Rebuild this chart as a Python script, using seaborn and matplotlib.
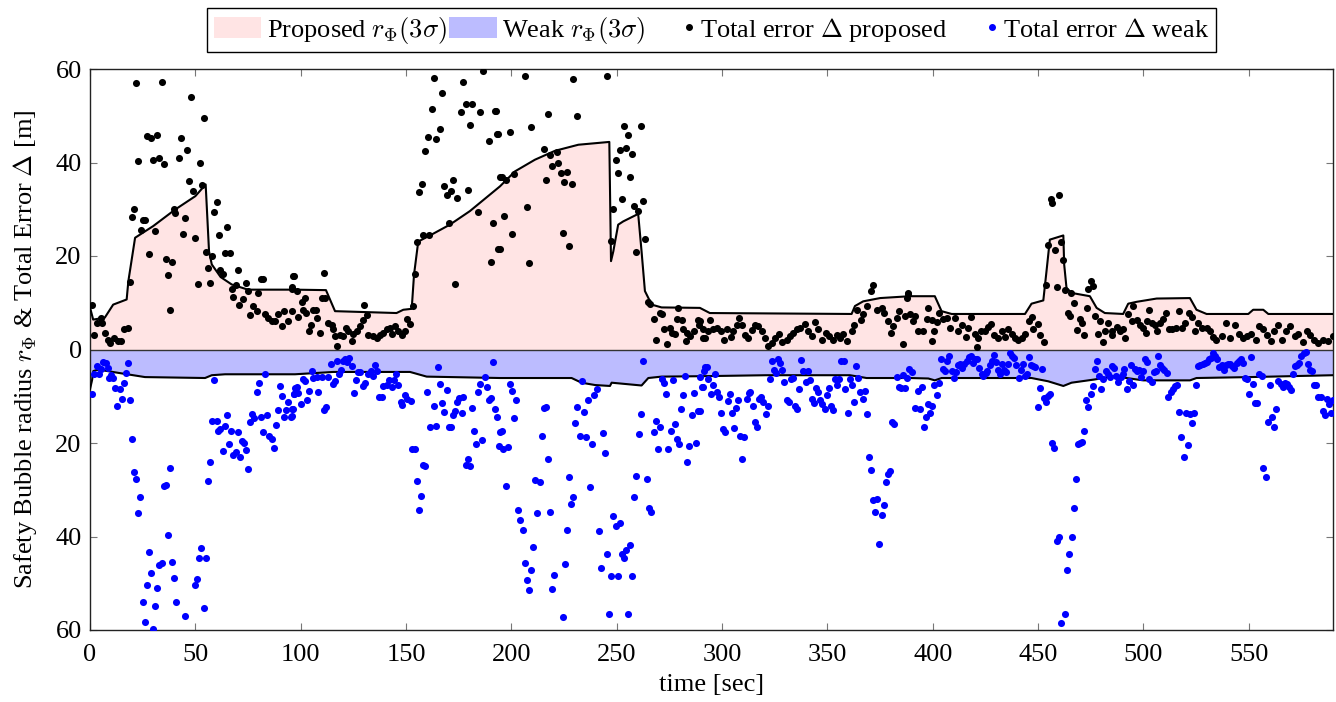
import numpy as np
import pandas as pd
import matplotlib
matplotlib.use("Agg")
import matplotlib.pyplot as plt
import seaborn as sns
from matplotlib.patches import Patch
from matplotlib.lines import Line2D
from matplotlib.legend_handler import HandlerBase

# ---------------- data ----------------
# Proposed safety bubble radius r_Phi(3 sigma)  (time [s], radius [m])
prop_r_t = [0, 1.5, 7, 11, 17.4, 18.2, 21.4, 30, 40.3, 50, 54.9, 56.5, 57.8, 62, 67.3, 75, 97.3,
            112, 116.3, 145.5, 148.7, 152.7, 153.8, 155.8, 161.4, 170.8, 180.3, 194.6, 201.7,
            211.2, 220.7, 231.8, 246.5, 247.3, 248.4, 250.7, 253.1, 260.2, 261.8, 263.4, 266.6,
            271.3, 289.5, 294.2, 361.5, 363.1, 367, 375, 389.2, 401, 404.2, 409, 443.8, 446.9,
            452.5, 454, 455.6, 462, 462.4, 463.5, 465.9, 474.6, 477.8, 481.7, 490.4, 492.8,
            496.8, 506.3, 522.1, 525.2, 530, 549.8, 552.1, 556.9, 559.3, 590]
prop_r = [9, 6.4, 6.8, 9.6, 10.7, 14.6, 23.9, 26.4, 29.9, 32.8, 35.3, 21, 18.2, 15.5, 13.9, 12.8,
          12.8, 12.7, 8.2, 7.8, 8.5, 8.7, 16, 23.1, 24.4, 26.7, 29.6, 34.9, 38.1, 40.6, 42.5,
          43.8, 44.4, 18.9, 21, 26.7, 27.4, 29, 21, 12.5, 9.6, 9.0, 8.9, 7.8, 7.6, 9.3, 10.3, 11,
          11.4, 11.4, 8.2, 7.6, 7.6, 9.8, 10.5, 16.7, 23.5, 24.4, 18.2, 13.2, 12.1, 11.4, 8.9,
          7.8, 7.6, 9.8, 10.2, 10.9, 11.0, 8.5, 7.6, 7.6, 8.5, 8.5, 7.6, 7.6]

# Weak safety bubble radius r_Phi(3 sigma) (drawn mirrored below zero)
weak_r_t = [0, 1.0, 1.6, 4, 13.5, 26.1, 54.6, 57.8, 64.1, 97.3, 115.5, 151.9, 159.8, 194.6,
            228.6, 233.3, 239.7, 246.8, 247.6, 261.8, 265, 271.3, 291.9, 321.1, 360.7, 368.6,
            389.2, 397.9, 401, 404.2, 446.9, 454.8, 462, 465.9, 477, 486.5, 492, 499.9, 522.1,
            525.2, 550.6, 590]
weak_r = [8.5, 6.5, 4.6, 4.3, 5.0, 5.9, 6.1, 5.5, 5.3, 5.3, 4.8, 4.8, 5.8, 6.1, 6.1, 7.1, 7.6,
          7.8, 7.1, 7.7, 6.1, 5.8, 5.7, 5.5, 5.5, 6.1, 6.1, 6.2, 6.6, 6.1, 6.1, 6.8, 7.8, 7.1,
          6.4, 5.7, 6.1, 6.6, 6.6, 6.1, 5.9, 5.5]

# Total error Delta, proposed  ([time, error])
prop_err_a = np.array([
    [21.8, 57.0], [34.0, 57.3], [47.9, 54.0], [54.0, 49.5], [26.9, 45.7], [29.0, 45.2], [32.0, 45.9],
    [43.0, 45.2], [46.0, 42.7], [23.0, 40.4], [30.1, 40.5], [32.9, 41.0], [35.1, 39.7], [42.1, 40.9],
    [52.1, 39.8], [47.2, 36.1], [53.0, 35.1], [48.9, 34.0], [21.0, 30.1], [20.0, 28.3], [25.3, 27.6],
    [26.1, 27.6], [24.2, 25.6], [30.9, 25.4], [39.9, 30.1], [40.5, 29.2], [44.9, 28.1], [44.0, 24.7],
    [50.0, 23.9], [60.1, 31.5], [59.0, 29.5], [65.0, 26.3], [61.1, 24.4], [28.0, 20.4], [36.1, 19.4],
    [38.9, 18.7], [36.9, 15.9], [54.9, 20.8], [58.1, 19.9], [63.9, 20.6], [66.3, 20.6], [55.9, 17.5],
    [61.9, 17.1], [63.0, 16.2], [70.1, 17.0], [51.1, 14.1], [57.0, 14.2], [38.0, 8.5], [18.8, 14.5],
    [67.3, 13.0], [69.2, 13.7], [68.0, 11.3], [73.9, 14.2], [75.2, 12.6], [79.9, 12.1], [81.3, 15.1],
    [82.1, 15.1], [70.7, 9.6], [72.8, 10.9], [76.0, 7.3], [77.2, 9.3], [79.3, 8.2], [82.9, 7.6],
    [84.3, 6.8], [86.2, 6.1], [89.1, 7.5], [91.3, 5.0], [92.3, 8.2], [94.1, 6.2], [96.5, 15.7],
    [96.0, 13.0], [0.8, 9.5], [3.2, 5.7], [2.1, 3.1], [5.2, 6.8], [5.9, 5.6], [7.1, 3.6], [8.4, 2.1],
    [9.5, 1.4], [11.6, 2.5], [13.5, 1.9], [14.7, 1.8], [16.3, 4.3], [17.9, 4.6], [87.8, 6.1]])
prop_err_b = np.array([
    [186.4, 59.5], [163.3, 58.0], [177.2, 57.3], [167.2, 54.9], [178.3, 52.6], [181.1, 52.6],
    [162.3, 51.4], [176.2, 50.8], [185.3, 50.9], [192.4, 51.1], [180.3, 48.1], [166.3, 47.1],
    [160.2, 45.4], [164.2, 45.0], [193.3, 46.1], [189.4, 44.7], [159.1, 42.4], [157.4, 35.3],
    [156.3, 33.7], [168.2, 35.0], [172.3, 36.3], [171.2, 34.0], [169.3, 33.0], [174.2, 32.3],
    [179.4, 34.1], [194.6, 37.0], [184.3, 29.5], [170.2, 27.0], [191.3, 27.1], [193.8, 21.5],
    [190.2, 18.8], [173.2, 14.0], [155.0, 23.1], [158.2, 24.4], [161.0, 24.4], [154.2, 16.2],
    [153.3, 9.4], [96.8, 15.7], [111.0, 16.3], [95.7, 13.3], [98.1, 12.5], [102.0, 11.0],
    [100.4, 10.2], [109.9, 11.0], [111.5, 11.0], [101.2, 8.5], [102.5, 7.8], [105.7, 8.4],
    [107.2, 8.4], [107.9, 6.8], [98.9, 7.0], [95.7, 8.2], [105.0, 5.2], [104.1, 3.9], [109.1, 3.6],
    [113.1, 5.7], [114.7, 5.3], [115.5, 4.3], [116.3, 2.8], [117.4, 0.7], [118.6, 3.2], [120.2, 2.8],
    [121.5, 4.6], [122.6, 3.9], [124.2, 1.9], [125.0, 3.3], [126.5, 3.9], [128.1, 5.0], [129.4, 6.4],
    [130.2, 9.5], [131.6, 7.3], [132.1, 3.1], [134.1, 2.8], [136.4, 2.4], [137.6, 3.2], [139.2, 3.6],
    [140.8, 4.3], [142.4, 4.6], [143.2, 3.3], [144.7, 5.0], [146.3, 3.9], [147.9, 3.1], [149.5, 3.9],
    [150.6, 6.6], [151.9, 5.5]])
prop_err_c = np.array([
    [206.3, 58.5], [229.4, 57.8], [245.4, 58.5], [192.7, 51.1], [217.4, 50.3], [231.3, 49.9],
    [193.5, 46.1], [199.3, 46.5], [209.3, 47.6], [253.4, 47.9], [261.3, 47.9], [255.5, 45.9],
    [215.5, 42.8], [218.3, 41.5], [221.5, 42.2], [251.5, 42.7], [254.2, 43.2], [257.4, 41.8],
    [219.4, 39.2], [222.3, 40.0], [223.5, 37.7], [226.2, 38.0], [225.1, 35.8], [228.6, 35.5],
    [216.4, 36.2], [249.5, 40.5], [250.4, 37.8], [256.4, 36.8], [195.4, 37.0], [197.4, 36.3],
    [201.4, 37.5], [207.2, 30.5], [252.3, 32.1], [262.3, 31.8], [248.4, 30.1], [258.3, 30.6],
    [260.2, 29.6], [196.3, 28.5], [200.3, 24.6], [194.4, 21.5], [224.3, 24.9], [227.3, 22.1],
    [208.3, 18.5], [247.3, 23.3], [263.6, 23.7], [259.4, 20.8], [264.7, 10.2], [265.8, 9.8],
    [270.5, 7.8], [271.3, 7.5], [267.8, 6.6], [279.2, 8.9], [278.4, 6.6], [280.8, 6.4], [272.6, 4.3],
    [275.3, 4.6], [276.1, 3.6], [277.6, 3.3], [281.6, 4.3], [283.2, 3.6], [284.8, 2.8], [286.8, 3.9],
    [288.4, 6.4], [289.0, 5.3], [291.1, 2.5], [268.5, 2.1], [273.7, 1.2], [282.7, 1.9]])
prop_err_d = np.array([
    [289.5, 6.1], [291.1, 4.3], [291.9, 2.4], [294.2, 6.4], [293.5, 3.9], [295.8, 4.3], [297.4, 4.6],
    [299.3, 3.9], [300.9, 2.1], [302.2, 4.3], [304.1, 2.6], [305.3, 3.9], [306.9, 5.3], [308.2, 6.8],
    [309.3, 5.2], [310.9, 3.1], [312.4, 2.4], [314.0, 4.1], [315.6, 5.3], [317.2, 5.0], [318.8, 3.9],
    [320.4, 2.4], [321.9, 0.7], [323.5, 1.4], [325.1, 2.4], [327.0, 3.3], [328.7, 1.6], [330.6, 2.1],
    [332.2, 2.8], [333.8, 3.6], [335.4, 4.3], [337.0, 4.6], [339.3, 5.5], [340.9, 3.9], [342.5, 2.8],
    [344.1, 5.9], [345.7, 4.3], [347.3, 2.1], [349.3, 3.6], [350.9, 2.8], [352.8, 2.1], [354.4, 3.2],
    [356.0, 2.5], [357.5, 3.3], [359.4, 1.8], [361.5, 3.9], [362.6, 5.2], [363.9, 8.5], [365.8, 6.4],
    [367.0, 7.5], [368.9, 9.3], [370.5, 12.5], [371.6, 13.7], [373.4, 8.5], [375.7, 8.9], [376.8, 7.8],
    [378.9, 6.1], [380.0, 3.6], [381.3, 5.0], [382.9, 6.8], [384.1, 8.2], [385.7, 1.2], [386.8, 7.1],
    [388.4, 11.9]])
prop_err_e = np.array([
    [388.4, 12.1], [387.6, 11.0], [389.2, 7.5], [390.8, 6.1], [391.5, 7.1], [393.1, 3.9], [395.5, 3.9],
    [397.1, 6.6], [397.9, 8.8], [399.5, 6.4], [400.7, 3.9], [399.5, 1.8], [401.8, 5.9], [402.9, 7.8],
    [405.0, 6.6], [406.6, 6.8], [408.2, 4.6], [410.5, 6.8], [412.1, 3.9], [413.7, 5.3], [415.6, 2.6],
    [416.9, 4.6], [418.4, 6.9], [420.0, 3.3], [421.3, 2.4], [420.8, 0.5], [422.9, 3.9], [424.8, 3.9],
    [426.4, 4.8], [427.9, 5.5], [429.2, 3.2], [431.1, 2.4], [432.7, 3.9], [434.3, 2.6], [435.9, 4.3],
    [437.4, 3.3], [439.0, 2.4], [440.6, 2.1], [442.2, 2.5], [443.8, 3.3], [445.7, 6.2], [446.9, 6.9],
    [447.7, 4.3], [449.8, 5.5], [450.9, 3.1], [452.9, 1.6], [454.0, 13.9], [454.8, 22.3], [456.0, 32.1],
    [456.7, 31.3], [459.9, 33.0], [458.0, 21.2], [460.9, 23.0], [462.0, 19.2], [458.8, 13.3],
    [462.7, 12.8], [465.6, 12.1], [467.2, 10.0], [464.0, 7.8], [465.1, 7.1], [468.3, 4.1], [469.9, 6.6],
    [470.7, 5.7], [471.8, 3.1], [473.0, 8.8], [473.8, 13.0], [475.1, 14.6], [475.9, 13.5], [477.0, 7.1],
    [478.3, 3.3], [479.4, 6.1], [480.9, 1.6], [481.7, 3.9], [483.3, 5.7], [484.9, 3.2]])
prop_err_f = np.array([
    [484.9, 3.9], [487.3, 4.8], [488.8, 3.9], [490.4, 4.3], [491.2, 2.4], [492.8, 7.6], [494.4, 6.1],
    [495.2, 9.3], [496.8, 6.4], [498.3, 5.3], [499.9, 4.6], [501.2, 3.6], [501.8, 6.1], [502.8, 8.4],
    [503.9, 5.7], [505.5, 5.3], [506.3, 3.9], [507.8, 5.7], [509.4, 6.6], [510.7, 7.8], [512.3, 4.3],
    [513.8, 4.3], [515.4, 4.6], [517.0, 8.3], [518.1, 4.6], [519.7, 5.7], [521.8, 7.8], [522.9, 6.9],
    [524.4, 3.9], [526.0, 5.7], [527.6, 4.6], [530.0, 4.6], [531.6, 3.9], [533.2, 2.6], [534.7, 2.1],
    [537.1, 2.8], [539.2, 5.7], [541.1, 2.5], [543.4, 5.3], [545.5, 3.3], [547.4, 2.4], [549.0, 2.8],
    [551.3, 3.3], [553.4, 2.1], [555.0, 5.0], [556.9, 4.3], [558.5, 3.1], [560.4, 1.8], [561.9, 3.9],
    [564.0, 5.3], [565.6, 2.1], [567.6, 3.9], [569.5, 5.0], [571.9, 2.8], [573.5, 3.3], [575.6, 1.6],
    [577.5, 3.9], [579.0, 3.2], [581.0, 2.1], [583.0, 1.4], [585.4, 2.1], [587.7, 1.8], [589.8, 2.8]])

# Total error Delta, weak  ([time, error]) -- drawn mirrored below zero
weak_err_a = np.array([
    [0.8, 9.5], [2.1, 5.3], [3.2, 3.6], [4.3, 5.3], [5.2, 4.1], [6.3, 2.6], [7.4, 2.8], [8.4, 3.9],
    [9.0, 6.1], [10.0, 5.5], [11.1, 6.1], [11.9, 8.2], [13.0, 12.0], [14.3, 8.4], [15.0, 10.5],
    [16.0, 7.1], [16.9, 5.0], [17.9, 2.8], [19.0, 10.7], [20.0, 19.1], [20.9, 26.1], [21.8, 27.6],
    [23.9, 31.5], [22.9, 35.0], [28.0, 43.4], [29.0, 47.8], [26.9, 50.4], [32.0, 51.0], [25.0, 54.1],
    [31.0, 54.8], [26.0, 58.3], [30.1, 59.8], [32.9, 46.2], [34.0, 45.7], [37.0, 39.7], [38.9, 45.4],
    [40.0, 48.8], [41.0, 54.1], [44.9, 57.1], [35.0, 29.2], [35.9, 29.0], [38.0, 25.4], [50.0, 50.4],
    [51.0, 49.0], [51.9, 44.6], [52.9, 42.4], [55.1, 44.6], [53.9, 55.2], [56.0, 28.1], [57.1, 24.0],
    [59.0, 6.6], [58.1, 15.2], [60.1, 15.2], [60.9, 17.5], [61.9, 17.1], [63.0, 21.7], [64.1, 16.4],
    [65.2, 14.1], [66.0, 20.3], [66.9, 17.4], [68.0, 22.6], [69.2, 21.9], [70.1, 17.7], [71.1, 23.0],
    [72.0, 19.6], [72.9, 20.0], [74.1, 21.4], [75.0, 25.5], [76.0, 15.5], [77.1, 13.7], [78.0, 14.6],
    [79.1, 9.0], [80.1, 7.1], [81.0, 14.5], [82.1, 17.6], [83.1, 5.3], [84.0, 14.1], [85.1, 18.5],
    [86.2, 19.1], [87.2, 21.1], [88.1, 16.2], [89.1, 13.0], [90.2, 7.8], [91.1, 10.0], [92.1, 14.4],
    [93.0, 13.0], [94.1, 11.2], [95.3, 14.4], [96.0, 12.7], [96.7, 9.6], [97.3, 8.2]])
weak_err_b = np.array([
    [95.7, 14.2], [96.2, 12.7], [96.8, 9.6], [98.1, 8.0], [98.9, 9.3], [100.1, 11.6], [101.2, 6.4],
    [102.0, 6.8], [103.1, 10.9], [104.1, 8.9], [105.2, 4.6], [106.0, 6.2], [107.6, 5.8], [108.2, 9.0],
    [109.9, 5.8], [111.2, 13.0], [112.0, 12.3], [113.1, 5.9], [114.2, 3.2], [115.2, 7.3], [116.1, 6.8],
    [117.1, 2.5], [118.2, 5.2], [119.0, 4.3], [119.9, 2.5], [121.0, 2.1], [122.1, 2.6], [123.1, 1.9],
    [124.2, 3.6], [125.1, 9.3], [126.2, 6.6], [127.3, 4.8], [128.1, 4.8], [129.4, 7.8], [130.5, 7.1],
    [132.1, 5.3], [133.2, 4.6], [134.1, 5.7], [135.2, 3.4], [136.4, 4.6], [137.3, 10.1], [138.4, 10.1],
    [139.2, 7.8], [140.8, 7.6], [142.1, 6.6], [143.2, 8.0], [144.3, 6.6], [145.2, 5.3], [146.3, 7.5],
    [147.4, 11.2], [148.2, 11.9], [149.5, 9.8], [150.6, 10.5], [152.2, 11.0], [153.0, 21.2],
    [154.1, 21.2], [155.0, 28.1], [157.2, 31.3], [156.3, 34.3], [158.2, 24.6], [159.1, 24.9],
    [160.1, 9.0], [161.4, 16.6], [163.3, 12.0], [164.2, 16.4], [165.2, 3.8], [166.1, 7.3], [167.2, 11.4],
    [168.0, 13.3], [169.3, 8.7], [170.4, 16.6], [171.3, 16.6], [172.3, 14.0], [173.2, 13.2],
    [174.0, 11.2], [175.3, 10.3], [176.4, 13.6], [177.2, 10.1], [178.4, 24.6], [179.4, 23.5],
    [180.3, 24.9], [181.3, 12.5], [182.2, 17.5], [183.2, 20.2], [184.3, 9.0], [185.3, 7.3],
    [186.2, 19.4], [187.3, 5.9], [188.3, 8.0], [189.5, 10.9], [190.3, 10.3], [191.4, 2.7],
    [192.4, 12.8], [193.2, 14.5], [194.0, 20.7], [194.6, 17.6]])
weak_err_c = np.array([
    [195.4, 17.5], [196.2, 21.2], [198.2, 20.8], [197.3, 29.2], [199.3, 7.3], [200.4, 8.8],
    [201.4, 14.6], [202.3, 10.7], [203.3, 34.3], [204.2, 36.5], [205.3, 38.6], [206.3, 45.6],
    [207.4, 49.3], [208.3, 51.4], [209.3, 47.1], [210.4, 42.2], [211.3, 27.9], [213.4, 28.3],
    [212.3, 35.0], [214.4, 18.4], [215.3, 12.5], [216.3, 12.3], [217.4, 23.4], [218.5, 34.7],
    [219.4, 51.3], [220.4, 48.3], [224.3, 57.3], [225.3, 45.9], [226.4, 38.6], [227.3, 27.3],
    [228.3, 33.1], [229.4, 31.6], [230.3, 15.7], [231.3, 12.3], [232.4, 18.6], [233.3, 6.8],
    [234.3, 13.4], [235.4, 18.8], [236.5, 10.9], [237.5, 29.4], [238.4, 20.2], [239.4, 9.8],
    [240.5, 8.4], [241.4, 38.8], [242.5, 46.8], [243.5, 17.8], [244.4, 22.1], [245.4, 43.8],
    [246.3, 56.5], [247.3, 48.5], [248.4, 35.6], [249.5, 37.7], [250.4, 48.5], [251.5, 37.2],
    [252.5, 43.7], [253.4, 44.5], [254.4, 42.9], [255.5, 56.6], [256.4, 41.8], [257.4, 48.5],
    [258.3, 31.5], [259.4, 27.1], [260.4, 18.1], [261.5, 13.7], [262.5, 2.5], [264.5, 27.8],
    [265.5, 33.8], [266.4, 34.7], [267.5, 17.7], [268.5, 15.2], [269.4, 21.2], [270.5, 16.6],
    [271.5, 6.3], [272.6, 7.1], [273.5, 9.6], [274.5, 21.2], [275.6, 17.4], [276.5, 6.6], [277.6, 16.0],
    [278.6, 19.2], [279.5, 20.2], [280.5, 12.7], [281.4, 9.8], [282.5, 5.7], [283.5, 24.0],
    [284.4, 20.7], [285.6, 14.1], [286.5, 9.3], [287.5, 19.9], [288.4, 13.2], [289.5, 5.9],
    [290.5, 8.0], [291.3, 4.6], [291.9, 3.8]])
weak_err_d = np.array([
    [289.5, 13.2], [290.8, 8.0], [292.7, 3.8], [293.5, 6.4], [294.6, 9.6], [295.5, 7.6], [296.6, 5.3],
    [297.4, 9.0], [298.5, 10.2], [299.5, 13.5], [300.6, 16.9], [301.5, 17.6], [302.6, 11.0],
    [303.6, 9.6], [304.5, 13.5], [305.5, 16.7], [306.6, 12.6], [307.5, 10.9], [308.5, 18.4],
    [309.4, 23.5], [310.5, 18.7], [311.7, 10.5], [312.6, 9.3], [313.5, 9.1], [314.5, 12.0],
    [315.6, 15.5], [316.6, 16.6], [317.7, 10.5], [318.6, 10.1], [319.6, 11.2], [320.7, 13.7],
    [321.6, 12.1], [322.6, 6.4], [323.5, 2.4], [324.6, 4.3], [325.6, 5.0], [326.7, 2.1], [327.6, 2.8],
    [328.6, 4.3], [329.5, 7.0], [330.6, 10.9], [331.6, 11.2], [332.5, 6.4], [333.5, 6.2], [334.6, 12.1],
    [335.5, 12.7], [336.5, 8.5], [337.6, 2.3], [338.5, 4.6], [339.7, 7.0], [340.6, 4.5], [341.7, 6.6],
    [342.7, 10.5], [343.6, 11.4], [344.6, 8.3], [345.7, 9.1], [346.6, 10.7], [347.6, 11.6],
    [348.7, 12.8], [349.6, 9.8], [350.6, 8.2], [351.7, 12.0], [352.6, 13.0], [353.6, 6.4], [354.5, 7.5],
    [355.6, 6.4], [356.7, 2.5], [357.7, 2.5], [358.6, 8.5], [359.8, 13.5], [360.7, 6.4], [361.7, 7.7],
    [362.6, 11.3], [363.7, 3.6], [364.7, 6.1], [365.6, 9.0], [366.7, 10.5], [367.7, 8.9], [368.6, 13.7],
    [369.7, 23.1], [370.7, 25.8], [371.6, 32.1], [372.7, 34.7], [373.7, 31.9], [374.6, 41.5],
    [375.7, 35.4], [376.7, 33.2], [377.8, 28.3], [378.7, 26.7], [379.7, 25.9], [380.6, 15.5],
    [381.7, 16.0], [382.9, 5.9], [384.0, 8.0], [384.9, 8.2], [386.0, 5.5], [387.0, 8.2], [387.9, 6.1],
    [388.9, 4.1]])
weak_err_e = np.array([
    [390.3, 4.8], [391.5, 12.5], [392.8, 8.9], [393.9, 12.7], [394.7, 8.0], [395.8, 16.5], [396.8, 14.4],
    [397.9, 11.6], [398.8, 13.5], [399.8, 12.0], [400.7, 7.6], [401.8, 9.8], [402.8, 7.1], [403.9, 2.1],
    [405.0, 4.1], [405.9, 4.5], [406.9, 2.5], [407.8, 1.3], [409.0, 4.6], [409.9, 6.1], [410.9, 4.8],
    [412.0, 3.3], [412.9, 3.2], [413.9, 3.9], [415.0, 3.1], [416.1, 2.4], [417.0, 1.6], [418.1, 1.4],
    [419.1, 2.8], [420.0, 2.1], [421.1, 2.1], [422.1, 3.9], [423.2, 5.3], [424.1, 5.7], [425.1, 5.0],
    [426.0, 4.6], [427.1, 3.3], [428.1, 2.5], [429.0, 1.1], [430.0, 2.6], [431.0, 4.3], [431.9, 5.2],
    [433.0, 3.2], [433.9, 4.3], [434.9, 4.8], [435.9, 3.2], [436.8, 0.7], [437.7, 1.3], [438.7, 1.8],
    [439.6, 3.3], [440.8, 6.1], [441.7, 4.4], [442.7, 3.0], [443.8, 5.7], [444.7, 5.2], [445.7, 1.6],
    [446.6, 3.3], [447.7, 3.6], [448.7, 3.8], [449.8, 12.3], [450.7, 8.2], [451.7, 4.1], [452.8, 10.3],
    [453.7, 11.2], [454.7, 10.0], [455.8, 9.5], [456.7, 20.0], [457.8, 21.0], [458.8, 41.0],
    [459.9, 40.1], [460.9, 58.6], [462.9, 56.6], [463.9, 47.2], [464.8, 43.8], [465.9, 40.1],
    [466.9, 33.8], [467.8, 27.6], [468.8, 20.2], [469.9, 19.9], [470.8, 19.8], [471.9, 17.5],
    [472.9, 10.8], [473.8, 12.3], [474.9, 9.6], [475.9, 7.8], [476.8, 4.1], [477.9, 2.5], [478.9, 5.6],
    [480.0, 8.5], [480.9, 6.4], [482.1, 4.6], [483.0, 5.2], [484.1, 5.9]])
weak_err_f = np.array([
    [484.9, 3.6], [486.0, 3.9], [486.9, 5.7], [488.1, 6.9], [489.2, 5.9], [490.1, 5.2], [490.9, 4.1],
    [492.0, 8.5], [493.1, 6.8], [493.9, 3.3], [494.9, 7.6], [496.0, 4.1], [497.1, 4.5], [498.0, 4.3],
    [499.1, 5.8], [499.9, 4.5], [500.9, 2.1], [501.8, 2.6], [502.8, 6.4], [503.9, 7.0], [505.0, 4.8],
    [505.9, 4.5], [507.0, 1.3], [507.8, 3.3], [508.9, 3.9], [509.9, 4.3], [511.0, 5.0], [511.9, 10.2],
    [513.1, 9.1], [514.0, 8.5], [515.1, 7.8], [516.1, 7.6], [517.0, 13.4], [518.0, 18.7], [519.1, 23.1],
    [520.0, 13.5], [521.0, 20.5], [522.1, 13.7], [523.0, 15.7], [524.0, 13.5], [525.1, 7.6], [526.0, 3.6],
    [527.0, 3.3], [528.1, 3.1], [529.2, 2.8], [530.1, 2.6], [531.1, 2.1], [532.2, 1.8], [533.1, 0.7],
    [534.1, 1.4], [535.0, 2.1], [536.0, 3.8], [537.1, 3.3], [538.1, 4.3], [539.2, 3.3], [540.1, 3.0],
    [541.1, 3.2], [542.2, 3.6], [543.1, 3.9], [544.2, 2.8], [545.2, 2.5], [546.1, 2.1], [547.1, 2.8],
    [548.0, 6.1], [549.0, 6.4], [550.1, 9.5], [551.0, 1.6], [552.1, 7.3], [553.1, 11.4], [554.0, 11.4],
    [555.0, 5.2], [556.1, 5.7], [557.0, 25.4], [558.0, 27.2], [559.1, 15.5], [560.0, 7.5], [561.2, 14.5],
    [562.1, 16.5], [563.1, 12.7], [564.0, 6.8], [565.1, 7.3], [566.1, 8.0], [567.0, 7.1], [568.0, 7.3],
    [568.9, 8.0], [570.0, 8.7], [571.0, 5.2], [571.9, 3.6], [573.0, 3.3], [574.0, 2.8], [574.9, 1.3],
    [576.0, 0.7], [577.1, 0.5], [578.1, 3.0], [579.0, 4.3], [580.1, 4.5], [581.1, 7.6], [582.1, 7.6],
    [583.0, 10.1], [584.1, 10.1], [585.1, 13.2], [586.0, 14.0], [587.0, 10.6], [588.1, 11.6],
    [589.0, 13.5], [589.8, 10.9]])

x_ticks = [0, 50, 100, 150, 200, 250, 300, 350, 400, 450, 500, 550]
y_ticks = [-60, -40, -20, 0, 20, 40, 60]
y_tick_labels = ["60", "40", "20", "0", "20", "40", "60"]

# ---------------- style ----------------
sns.set_style("ticks")
plt.rcParams["font.family"] = ["Liberation Serif", "DejaVu Serif"]
plt.rcParams["mathtext.fontset"] = "cm"
plt.rcParams["text.color"] = "black"
plt.rcParams["axes.labelcolor"] = "black"
plt.rcParams["xtick.color"] = "black"
plt.rcParams["ytick.color"] = "black"
FS = 19

PINK = "#ffe4e4"
BLUEFILL = "#bcbcff"


class RightDotHandler(HandlerBase):
    """Draw a single dot at the right end of the legend handle box."""
    def create_artists(self, legend, orig_handle, xdescent, ydescent, width, height,
                       fontsize, trans):
        x = -xdescent + width - 0.22 * fontsize
        y = -ydescent + height / 2.0
        dot = Line2D([x], [y], ls="none", marker="o", color=orig_handle.get_color(),
                     ms=orig_handle.get_markersize(), transform=trans)
        return [dot]


fig = plt.figure(figsize=(13.36, 7.02), dpi=100)
ax = fig.add_axes([90 / 1336, 1 - 630 / 702, (1333 - 90) / 1336, (630 - 69) / 702])

ax.fill_between(prop_r_t, 0, prop_r, color=PINK, lw=0, zorder=1)
ax.fill_between(weak_r_t, 0, -np.asarray(weak_r), color=BLUEFILL, lw=0, zorder=1)
ax.axhline(0, color="#333333", lw=1.0, zorder=2)

df_rp = pd.DataFrame({"t": prop_r_t, "r": prop_r})
df_rw = pd.DataFrame({"t": weak_r_t, "r": -np.asarray(weak_r)})
sns.lineplot(data=df_rp, x="t", y="r", color="black", lw=1.5, sort=False, ax=ax, zorder=3)
sns.lineplot(data=df_rw, x="t", y="r", color="black", lw=1.5, sort=False, ax=ax, zorder=3)

prop_err = np.vstack([prop_err_a, prop_err_b, prop_err_c, prop_err_d, prop_err_e, prop_err_f])
weak_err = np.vstack([weak_err_a, weak_err_b, weak_err_c, weak_err_d, weak_err_e, weak_err_f])
df_pe = pd.DataFrame({"t": prop_err[:, 0], "e": prop_err[:, 1]})
df_we = pd.DataFrame({"t": weak_err[:, 0], "e": -weak_err[:, 1]})
sns.scatterplot(data=df_pe, x="t", y="e", color="black", s=26, linewidth=0, ax=ax, zorder=4)
sns.scatterplot(data=df_we, x="t", y="e", color="#0000ff", s=26, linewidth=0, ax=ax, zorder=4)

ax.set_xlim(0, 590)
ax.set_ylim(-60, 60)
ax.set_xticks(x_ticks)
ax.set_yticks(y_ticks)
ax.set_yticklabels(y_tick_labels)
ax.tick_params(direction="in", top=True, right=True, length=5, width=0.8, color="#777777",
               labelsize=FS, labelcolor="black")
ax.tick_params(axis="x", pad=10)
ax.tick_params(axis="y", pad=6)
for sp in ax.spines.values():
    sp.set_color("#222222")
    sp.set_linewidth(1.0)
ax.set_xlabel("time [sec]", fontsize=FS, labelpad=6)
ax.set_ylabel(r"Safety Bubble radius $r_\Phi$ & Total Error $\Delta$ [m]", fontsize=FS,
              labelpad=12)

dot_p = Line2D([], [], ls="none", marker="o", color="black", ms=4)
dot_w = Line2D([], [], ls="none", marker="o", color="#0000ff", ms=4)
handles = [Patch(facecolor=PINK, edgecolor="none"), Patch(facecolor=BLUEFILL, edgecolor="none"),
           dot_p, dot_w]
labels = [r"Proposed $r_\Phi(3\sigma)$", r"Weak $r_\Phi(3\sigma)$",
          r"Total error $\Delta$ proposed", r"Total error $\Delta$ weak"]
leg = ax.legend(handles, labels, loc="lower center", bbox_to_anchor=(0.5, 1.03), ncol=4,
                fontsize=FS, frameon=True, fancybox=False, framealpha=1, edgecolor="black",
                handlelength=1.8, handleheight=0.85, handletextpad=0.2, columnspacing=0.1,
                borderpad=0.25, borderaxespad=0,
                handler_map={dot_p: RightDotHandler(), dot_w: RightDotHandler()})
leg.get_frame().set_linewidth(1.0)

fig.savefig("out.png", dpi=100)
